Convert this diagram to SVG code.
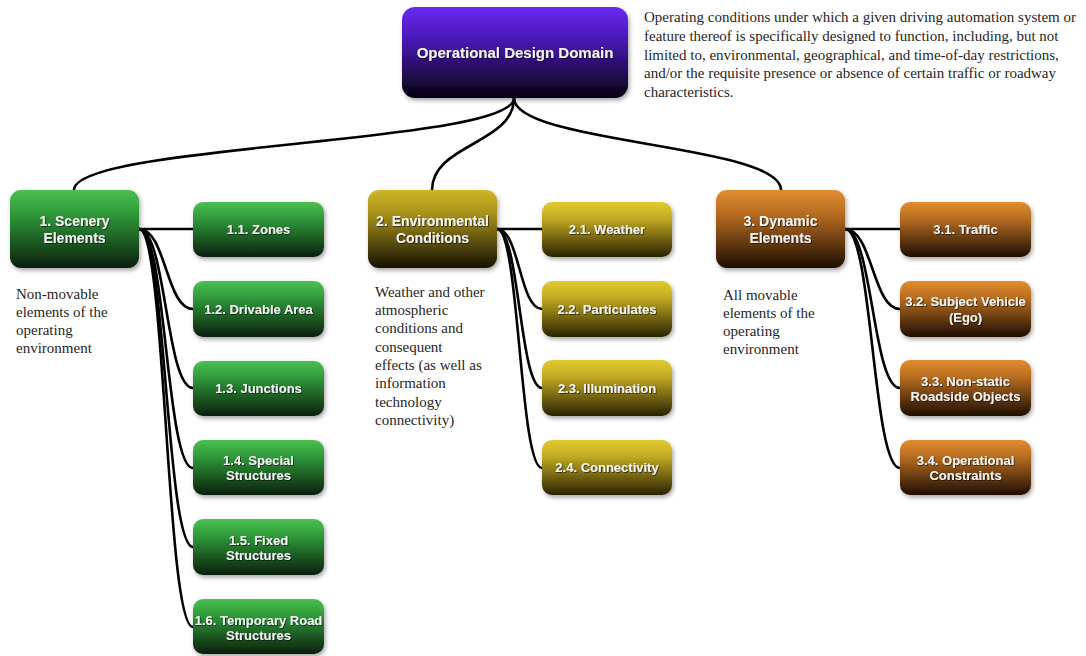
<svg xmlns="http://www.w3.org/2000/svg" width="1086" height="656" viewBox="0 0 1086 656">
  <defs>
    <linearGradient id="gRoot" x1="0" y1="0" x2="0" y2="1">
      <stop offset="0" stop-color="#6a2af2"/>
      <stop offset="0.35" stop-color="#4a18b8"/>
      <stop offset="1" stop-color="#07020e"/>
    </linearGradient>
    <linearGradient id="gGreen" x1="0" y1="0" x2="0" y2="1">
      <stop offset="0" stop-color="#4cbf50"/>
      <stop offset="0.3" stop-color="#2f9a3a"/>
      <stop offset="1" stop-color="#0b1f0d"/>
    </linearGradient>
    <linearGradient id="gYellow" x1="0" y1="0" x2="0" y2="1">
      <stop offset="0" stop-color="#cdb628"/>
      <stop offset="0.3" stop-color="#a8921a"/>
      <stop offset="1" stop-color="#161200"/>
    </linearGradient>
    <linearGradient id="gYellowLeaf" x1="0" y1="0" x2="0" y2="1">
      <stop offset="0" stop-color="#e2ca30"/>
      <stop offset="0.3" stop-color="#c2aa22"/>
      <stop offset="1" stop-color="#2a2200"/>
    </linearGradient>
    <linearGradient id="gOrange" x1="0" y1="0" x2="0" y2="1">
      <stop offset="0" stop-color="#e28c30"/>
      <stop offset="0.3" stop-color="#b86d20"/>
      <stop offset="1" stop-color="#1e0e02"/>
    </linearGradient>
    <filter id="boxShadow" x="-10%" y="-10%" width="125%" height="135%">
      <feDropShadow dx="1.5" dy="2.5" stdDeviation="2" flood-color="#000" flood-opacity="0.35"/>
    </filter>
    <filter id="textShadow" x="-5%" y="-20%" width="115%" height="150%">
      <feDropShadow dx="0.8" dy="0.8" stdDeviation="0.6" flood-color="#000" flood-opacity="0.7"/>
    </filter>
  </defs>
  <style>
    .box { filter: url(#boxShadow); }
    .lbl { font-family: "Liberation Sans", Arial, sans-serif; font-weight: bold; fill: #f4f4f4; text-anchor: middle; filter: url(#textShadow); }
    .l0 { font-size: 15px; }
    .l1 { font-size: 14px; }
    .l2 { font-size: 13px; }
    .desc { font-family: "Liberation Serif", "Times New Roman", serif; font-size: 15px; fill: #262626; }
    .link { fill: none; stroke: #000; stroke-width: 2.6; }
  </style>

  <rect width="1086" height="656" fill="#ffffff"/>

  <!-- connectors -->
  <g id="connectors" class="links">
    <!-- root to categories -->
    <path class="link" d="M514,98 C514,144 74,144 74,190"/>
    <path class="link" d="M514,98 C514,144 432,144 432,190"/>
    <path class="link" d="M514,98 C514,144 781,144 781,190"/>
    <!-- scenery elements -->
    <path class="link" d="M139,229 C166,229 166,229 193,229"/>
    <path class="link" d="M139,229 C166,229 166,309 193,309"/>
    <path class="link" d="M139,229 C166,229 166,388 193,388"/>
    <path class="link" d="M139,229 C166,229 166,468 193,468"/>
    <path class="link" d="M139,229 C166,229 166,547 193,547"/>
    <path class="link" d="M139,229 C166,229 166,627 193,627"/>
    <!-- environmental conditions -->
    <path class="link" d="M497,229 C519.5,229 519.5,229 542,229"/>
    <path class="link" d="M497,229 C519.5,229 519.5,309 542,309"/>
    <path class="link" d="M497,229 C519.5,229 519.5,388 542,388"/>
    <path class="link" d="M497,229 C519.5,229 519.5,468 542,468"/>
    <!-- dynamic elements -->
    <path class="link" d="M845,229 C872.5,229 872.5,229 900,229"/>
    <path class="link" d="M845,229 C872.5,229 872.5,309 900,309"/>
    <path class="link" d="M845,229 C872.5,229 872.5,388 900,388"/>
    <path class="link" d="M845,229 C872.5,229 872.5,468 900,468"/>
  </g>

  <!-- root -->
  <g id="odd">
    <rect class="box" x="402" y="7" width="226" height="91" rx="13" fill="url(#gRoot)"/>
    <text class="lbl l0" x="515" y="58">Operational Design Domain</text>
  </g>
  <g id="odd-desc">
    <text class="desc" x="644" y="22">Operating conditions under which a given driving automation system or</text>
    <text class="desc" x="644" y="41">feature thereof is specifically designed to function, including, but not</text>
    <text class="desc" x="644" y="60">limited to, environmental, geographical, and time-of-day restrictions,</text>
    <text class="desc" x="644" y="78">and/or the requisite presence or absence of certain traffic or roadway</text>
    <text class="desc" x="644" y="97">characteristics.</text>
  </g>

  <!-- 1. Scenery Elements -->
  <g id="scenery">
    <rect class="box" x="10" y="190" width="129" height="78" rx="11" fill="url(#gGreen)"/>
    <text class="lbl l1" x="74.5" y="226">1. Scenery</text>
    <text class="lbl l1" x="74.5" y="243">Elements</text>
  </g>
  <g id="scenery-desc">
    <text class="desc" x="16" y="299">Non-movable</text>
    <text class="desc" x="16" y="317">elements of the</text>
    <text class="desc" x="16" y="335">operating</text>
    <text class="desc" x="16" y="353">environment</text>
  </g>
  <g id="zones">
    <rect class="box" x="193" y="202" width="131" height="55" rx="10" fill="url(#gGreen)"/>
    <text class="lbl l2" x="258.5" y="234">1.1. Zones</text>
  </g>
  <g id="drivable-area">
    <rect class="box" x="193" y="281" width="131" height="56" rx="10" fill="url(#gGreen)"/>
    <text class="lbl l2" x="258.5" y="314">1.2. Drivable Area</text>
  </g>
  <g id="junctions">
    <rect class="box" x="193" y="361" width="131" height="55" rx="10" fill="url(#gGreen)"/>
    <text class="lbl l2" x="258.5" y="393">1.3. Junctions</text>
  </g>
  <g id="special-structures">
    <rect class="box" x="193" y="440" width="131" height="55" rx="10" fill="url(#gGreen)"/>
    <text class="lbl l2" x="258.5" y="465">1.4. Special</text>
    <text class="lbl l2" x="258.5" y="480">Structures</text>
  </g>
  <g id="fixed-structures">
    <rect class="box" x="193" y="519" width="131" height="56" rx="10" fill="url(#gGreen)"/>
    <text class="lbl l2" x="258.5" y="545">1.5. Fixed</text>
    <text class="lbl l2" x="258.5" y="560">Structures</text>
  </g>
  <g id="temporary-road-structures">
    <rect class="box" x="193" y="599" width="131" height="55" rx="10" fill="url(#gGreen)"/>
    <text class="lbl l2" x="258.5" y="625">1.6. Temporary Road</text>
    <text class="lbl l2" x="258.5" y="640">Structures</text>
  </g>

  <!-- 2. Environmental Conditions -->
  <g id="environmental">
    <rect class="box" x="368" y="190" width="129" height="78" rx="11" fill="url(#gYellow)"/>
    <text class="lbl l1" x="432.5" y="226">2. Environmental</text>
    <text class="lbl l1" x="432.5" y="243">Conditions</text>
  </g>
  <g id="environmental-desc">
    <text class="desc" x="375" y="297">Weather and other</text>
    <text class="desc" x="375" y="315">atmospheric</text>
    <text class="desc" x="375" y="333">conditions and</text>
    <text class="desc" x="375" y="352">consequent</text>
    <text class="desc" x="375" y="370">effects (as well as</text>
    <text class="desc" x="375" y="388">information</text>
    <text class="desc" x="375" y="407">technology</text>
    <text class="desc" x="375" y="425">connectivity)</text>
  </g>
  <g id="weather">
    <rect class="box" x="542" y="202" width="130" height="55" rx="10" fill="url(#gYellowLeaf)"/>
    <text class="lbl l2" x="607" y="234">2.1. Weather</text>
  </g>
  <g id="particulates">
    <rect class="box" x="542" y="281" width="130" height="56" rx="10" fill="url(#gYellowLeaf)"/>
    <text class="lbl l2" x="607" y="314">2.2. Particulates</text>
  </g>
  <g id="illumination">
    <rect class="box" x="542" y="360" width="130" height="56" rx="10" fill="url(#gYellowLeaf)"/>
    <text class="lbl l2" x="607" y="393">2.3. Illumination</text>
  </g>
  <g id="connectivity">
    <rect class="box" x="542" y="440" width="130" height="55" rx="10" fill="url(#gYellowLeaf)"/>
    <text class="lbl l2" x="607" y="472">2.4. Connectivity</text>
  </g>

  <!-- 3. Dynamic Elements -->
  <g id="dynamic">
    <rect class="box" x="716" y="190" width="129" height="78" rx="11" fill="url(#gOrange)"/>
    <text class="lbl l1" x="780.5" y="226">3. Dynamic</text>
    <text class="lbl l1" x="780.5" y="243">Elements</text>
  </g>
  <g id="dynamic-desc">
    <text class="desc" x="723" y="300">All movable</text>
    <text class="desc" x="723" y="318">elements of the</text>
    <text class="desc" x="723" y="336">operating</text>
    <text class="desc" x="723" y="354">environment</text>
  </g>
  <g id="traffic">
    <rect class="box" x="900" y="202" width="131" height="55" rx="10" fill="url(#gOrange)"/>
    <text class="lbl l2" x="965.5" y="234">3.1. Traffic</text>
  </g>
  <g id="subject-vehicle">
    <rect class="box" x="900" y="281" width="131" height="56" rx="10" fill="url(#gOrange)"/>
    <text class="lbl l2" x="965.5" y="306">3.2. Subject Vehicle</text>
    <text class="lbl l2" x="965.5" y="322">(Ego)</text>
  </g>
  <g id="non-static-roadside-objects">
    <rect class="box" x="900" y="360" width="131" height="56" rx="10" fill="url(#gOrange)"/>
    <text class="lbl l2" x="965.5" y="386">3.3. Non-static</text>
    <text class="lbl l2" x="965.5" y="401">Roadside Objects</text>
  </g>
  <g id="operational-constraints">
    <rect class="box" x="900" y="440" width="131" height="55" rx="10" fill="url(#gOrange)"/>
    <text class="lbl l2" x="965.5" y="465">3.4. Operational</text>
    <text class="lbl l2" x="965.5" y="480">Constraints</text>
  </g>
</svg>
